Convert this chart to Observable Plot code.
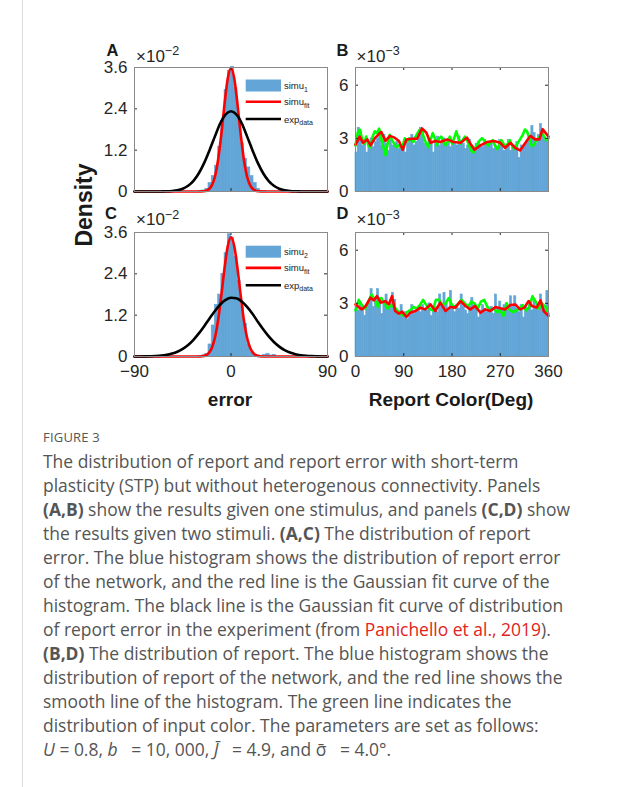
<!DOCTYPE html>
<html><head><meta charset="utf-8">
<script src="https://cdn.jsdelivr.net/npm/d3@7"></script>
<script src="https://cdn.jsdelivr.net/npm/@observablehq/plot@0.6"></script>
<style>
html,body{margin:0;padding:0;background:#fff;}
#wrap{position:relative;width:624px;height:787px;overflow:hidden;font-family:"Liberation Sans",Arial,sans-serif;}
.panel{position:absolute;}
#overlay{position:absolute;left:0;top:0;pointer-events:none;}
#border{position:absolute;left:22px;top:0;width:1px;height:787px;background:#dcdcdc;}
#caption{position:absolute;left:43px;top:425px;font-family:"Open Sans",Lato,sans-serif;color:#555;white-space:nowrap;}
#caption .fig{font-size:13px;line-height:24px;height:24px;letter-spacing:0.2px;color:#555;}
#caption .ln{font-size:16px;line-height:24px;height:24px;}
#caption b{font-weight:700;color:#555;}
#caption .ref{color:#e2231a;}
</style></head><body>
<div id="wrap">
  <div id="border"></div>
</div>
<script>
// ---------------- DATA ----------------
// Panel A/C: report error histograms (density, x10^-2), bins of 3 deg given by centers
const errBinCentersA = [-31.5,-28.5,-25.5,-22.5,-19.5,-16.5,-13.5,-10.5,-7.5,-4.5,-1.5,1.5,4.5,7.5,10.5,13.5,16.5,19.5,22.5,25.5,28.5,31.5];
const histA = [0,0.01,0.03,0.08,0.25,0.45,0.75,1.3,2.05,2.95,3.5,3.62,3.0,2.1,1.4,0.95,0.7,0.45,0.25,0.08,0.02,0.01];
const errBinCentersC = [-31.5,-28.5,-25.5,-22.5,-19.5,-16.5,-13.5,-10.5,-7.5,-4.5,-1.5,1.5,4.5,7.5,10.5,13.5,16.5,19.5,22.5,25.5,28.5,31.5,34.5,37.5,40.5];
const histC = [0,0.01,0.03,0.08,0.35,0.9,1.5,1.8,2.4,3.0,3.55,3.45,2.9,2.2,1.45,0.95,0.35,0.12,0.05,0.02,0.01,0.05,0.08,0.03,0.05];
const errBinWidth = 3;

// Gaussian fit of simulation (red) and experiment (black)
const redAx = [-90,-30,-27,-24,-21,-18,-15,-12,-9,-6,-3,0,3,6,9,12,15,18,21,24,27,30,90];
const redAy = [0,0,0.004,0.016,0.057,0.17,0.43,0.93,1.67,2.55,3.29,3.58,3.29,2.55,1.67,0.93,0.43,0.17,0.057,0.016,0.004,0,0];
const blackAx = [-90,-70,-65,-60,-55,-50,-45,-40,-35,-30,-25,-20,-15,-10,-5,0,5,10,15,20,25,30,35,40,45,50,55,60,65,70,90];
const blackAy = [0,0,0.002,0.006,0.016,0.037,0.082,0.166,0.31,0.53,0.83,1.20,1.60,1.98,2.24,2.33,2.24,1.98,1.60,1.20,0.83,0.53,0.31,0.166,0.082,0.037,0.016,0.006,0.002,0,0];
const redCx = [-90,-30,-27,-24,-21,-18,-15,-12,-9,-6,-3,0,3,6,9,12,15,18,21,24,27,30,90];
const redCy = [0,0,0.009,0.03,0.092,0.242,0.545,1.06,1.78,2.57,3.21,3.46,3.21,2.57,1.78,1.06,0.545,0.242,0.092,0.03,0.009,0,0];
const blackCx = [-90,-85,-80,-75,-70,-65,-60,-55,-50,-45,-40,-35,-30,-25,-20,-15,-10,-5,0,5,10,15,20,25,30,35,40,45,50,55,60,65,70,75,80,85,90];
const blackCy = [0,0.001,0.003,0.007,0.014,0.026,0.048,0.084,0.139,0.222,0.336,0.485,0.67,0.88,1.105,1.32,1.51,1.643,1.707,1.69,1.60,1.44,1.24,1.01,0.79,0.59,0.42,0.286,0.185,0.114,0.067,0.038,0.02,0.01,0.005,0.002,0];

// Panel B/D: report color histograms (density, x10^-3), 90 bins of 4 deg
const colorBinWidth = 4;
const histB = [2.2,3.6,3.4,2.6,2.9,2.2,2.7,3.0,2.5,2.8,
 3.0,3.3,2.6,3.2,2.7,2.3,2.9,2.6,2.7,2.8,
 2.4,2.5,2.6,2.2,2.7,2.9,3.2,2.6,2.8,3.0,
 3.6,3.3,2.7,2.5,2.9,2.8,2.2,2.9,3.1,2.6,
 2.7,3.0,2.6,2.8,2.5,2.9,2.7,2.6,3.1,2.8,
 2.7,2.4,2.6,2.9,2.5,2.2,2.7,2.8,2.6,2.5,
 2.9,2.6,2.7,2.8,2.4,2.6,2.5,2.9,2.7,2.3,
 2.6,2.9,2.3,2.5,2.6,2.8,1.9,2.6,2.5,2.7,
 2.9,3.1,3.7,3.3,2.7,3.2,3.8,3.4,3.0,2.9];
const histD = [2.8,2.6,3.0,2.7,2.3,2.9,3.1,3.8,2.8,3.2,
 3.8,3.3,2.4,3.1,3.5,2.8,3.0,3.6,3.2,2.6,
 2.3,2.9,2.2,2.5,2.1,2.6,2.9,2.4,2.6,2.8,
 2.5,2.9,2.7,2.6,3.0,2.3,2.6,2.8,2.5,3.5,
 2.9,3.6,3.0,2.6,3.7,2.8,2.5,2.9,2.7,3.5,
 2.8,2.6,2.4,2.8,3.3,2.9,2.7,2.2,2.6,2.9,
 2.7,2.5,2.6,2.8,2.4,3.5,2.7,3.1,2.6,2.9,
 3.0,2.6,3.4,2.8,3.4,2.7,2.5,2.9,2.2,2.8,
 2.7,2.9,2.6,3.2,2.8,2.6,3.5,2.9,2.7,3.7];
// input color distribution (green), every 4 deg (B) / 6 deg (D)
const greenBx = d3.range(0, 361, 4);
const greenBy = [2.6,3.3,3.5,3.0,2.7,3.1,2.6,2.5,3.1,3.4,
 3.3,3.55,3.0,2.5,2.05,2.7,3.2,2.9,2.7,2.5,
 2.6,2.5,2.6,3.0,2.8,3.0,2.9,2.8,3.1,3.3,
 3.5,3.4,3.0,2.7,2.5,2.9,3.3,3.0,2.6,3.0,
 3.1,2.8,2.6,2.8,3.1,2.7,3.0,3.4,3.0,2.7,
 2.9,3.1,2.9,2.6,2.3,2.2,2.5,2.7,2.9,3.0,
 2.9,2.7,2.6,2.8,2.9,2.6,2.4,2.6,2.9,2.7,
 2.5,2.7,2.9,2.6,2.4,2.6,2.8,3.0,3.2,3.5,
 3.4,3.0,2.6,2.6,2.8,3.0,3.1,3.3,3.1,2.9,
 3.0];
const greenDx = d3.range(0, 361, 6);
const greenDy = [2.6,3.2,2.9,2.7,3.1,3.5,3.2,2.8,3.3,3.0,
 2.7,2.9,2.8,2.6,2.4,2.3,2.5,2.6,2.8,2.7,
 2.9,3.2,2.9,2.7,2.6,3.2,3.2,2.9,3.0,3.3,
 2.9,2.8,3.0,3.2,3.0,2.8,3.1,3.0,2.7,3.1,
 3.2,2.8,2.6,2.7,2.5,2.6,2.3,3.0,2.6,2.5,
 2.6,2.7,2.9,2.6,2.8,3.4,3.1,2.7,3.0,2.8,
 2.4];
// smoothed histogram (red)
const redBx = [0,8,14,22,28,37,48,56,64,73,81,88,95,106,115,124,132,140,149,158,171,183,196,208,214,222,233,245,258,270,279,289,298,307,317,326,335,343,349,360];
const redBy = [2.65,3.1,2.75,2.94,2.6,3.04,3.37,2.85,3.14,3.04,2.85,2.36,2.94,2.98,2.98,3.56,3.33,2.75,2.85,2.79,2.94,2.79,2.75,3.04,2.71,2.36,2.6,2.79,2.85,2.75,2.46,2.75,2.46,2.32,2.75,3.14,2.94,2.94,3.52,3.1];
const redDx = [0,6,12,19,28,34,40,47,56,62,68,74,81,87,95,102,112,121,130,140,149,158,168,177,186,196,205,214,223,233,242,251,261,270,279,289,298,307,315,323,329,338,345,351,360];
const redDy = [2.94,2.79,2.66,2.85,3.32,3.17,3.41,3.04,3.13,2.94,3.41,2.57,2.42,2.53,2.23,2.47,2.57,2.76,2.66,2.94,2.57,3.04,2.57,2.79,2.76,3.13,2.85,2.66,2.85,2.47,2.66,2.57,2.79,2.72,2.66,2.91,2.94,2.66,2.76,3.13,2.85,2.76,3.17,2.57,2.29];

// ticks
const errTicks = [-90, 0, 90];
const colorTicks = [0, 90, 180, 270, 360];
const errYTicks = [0, 1.2, 2.4, 3.6];   // x10^-2
const colorYTicks = [0, 3, 6];          // x10^-3
const errYMax = 3.6, colorYMax = 7;

// ---------------- DRAW ----------------
const BLUE = "#62a5d6";
const wrap = document.getElementById("wrap");
const pts = (xs, ys) => xs.map((x, i) => ({x, y: ys[i]}));
const binsFromCenters = (cs, vs, w) => cs.map((c, i) => ({x1: c - w/2, x2: c + w/2, v: vs[i]}));
const binsFromStart = (vs, w) => vs.map((v, i) => ({x1: i*w, x2: (i+1)*w, v}));
const fmt = d => d < 0 ? "−" + Math.abs(d) : String(d);

function panel({left, top, w, h, xDomain, yDomain, xTicks, yTicks, showX, marks}) {
  const ml = 40, mr = 6, mt = 4, mb = showX ? 30 : 4;
  const chart = Plot.plot({
    width: w + ml + mr, height: h + mt + mb,
    marginLeft: ml, marginRight: mr, marginTop: mt, marginBottom: mb,
    x: {domain: xDomain, axis: showX ? undefined : null},
    y: {domain: yDomain},
    style: {fontFamily: '"Liberation Sans", Arial, sans-serif', fontSize: "17px", color: "#262626", background: "transparent", overflow: "visible"},
    marks: [
      ...marks,
      Plot.tickY(yTicks, {y: d => d, insetRight: w - 3, stroke: "#262626"}),
      Plot.tickY(yTicks, {y: d => d, insetLeft: w - 3, stroke: "#262626"}),
      Plot.tickX(xTicks, {x: d => d, insetTop: h - 3, stroke: "#262626"}),
      Plot.tickX(xTicks, {x: d => d, insetBottom: h - 3, stroke: "#262626"}),
      Plot.frame({stroke: "#8a8a8a"}),
      Plot.axisY(yTicks, {tickSize: 0, tickPadding: 7, label: null, fill: "#262626", tickFormat: fmt}),
      ...(showX ? [Plot.axisX(xTicks, {tickSize: 0, tickPadding: 8, label: null, fill: "#262626", tickFormat: fmt})] : [])
    ]
  });
  chart.classList.add("panel");
  chart.style.left = (left - ml) + "px";
  chart.style.top = (top - mt) + "px";
  wrap.appendChild(chart);
}

function histMark(hist) {
  return Plot.rect(hist, {x1: "x1", x2: "x2", y1: 0, y2: "v", fill: BLUE, stroke: BLUE, strokeWidth: 0.6});
}
function errMarks(hist, redPts, blackPts) {
  return [
    histMark(hist),
    Plot.line(redPts, {x: "x", y: "y", stroke: "#ff0000", strokeWidth: 2.6, curve: "monotone-x"}),
    Plot.line(blackPts, {x: "x", y: "y", stroke: "#000", strokeWidth: 2.6, curve: "monotone-x"})
  ];
}
function colorMarks(hist, greenPts, redPts) {
  return [
    histMark(hist),
    Plot.line(greenPts, {x: "x", y: "y", stroke: "#00ff00", strokeWidth: 2.6}),
    Plot.line(redPts, {x: "x", y: "y", stroke: "#ff0000", strokeWidth: 2.6})
  ];
}

panel({left: 134, top: 67, w: 193, h: 124, xDomain: [-90, 90], yDomain: [0, errYMax], xTicks: errTicks, yTicks: errYTicks, showX: false,
  marks: errMarks(binsFromCenters(errBinCentersA, histA, errBinWidth), pts(redAx, redAy), pts(blackAx, blackAy))});
panel({left: 355, top: 67, w: 193, h: 124, xDomain: [0, 360], yDomain: [0, colorYMax], xTicks: colorTicks, yTicks: colorYTicks, showX: false,
  marks: colorMarks(binsFromStart(histB, colorBinWidth), pts(greenBx, greenBy), pts(redBx, redBy))});
panel({left: 134, top: 232, w: 193, h: 124, xDomain: [-90, 90], yDomain: [0, errYMax], xTicks: errTicks, yTicks: errYTicks, showX: true,
  marks: errMarks(binsFromCenters(errBinCentersC, histC, errBinWidth), pts(redCx, redCy), pts(blackCx, blackCy))});
panel({left: 355, top: 232, w: 193, h: 124, xDomain: [0, 360], yDomain: [0, colorYMax], xTicks: colorTicks, yTicks: colorYTicks, showX: true,
  marks: colorMarks(binsFromStart(histD, colorBinWidth), pts(greenDx, greenDy), pts(redDx, redDy))});

// ---------------- TEXT OVERLAY ----------------
const NS = "http://www.w3.org/2000/svg";
const ov = document.createElementNS(NS, "svg");
ov.setAttribute("id", "overlay");
ov.setAttribute("width", 624); ov.setAttribute("height", 787);
ov.setAttribute("font-family", '"Liberation Sans", Arial, sans-serif');
wrap.appendChild(ov);
function el(tag, attrs, parent = ov) {
  const e = document.createElementNS(NS, tag);
  for (const k in attrs) e.setAttribute(k, attrs[k]);
  parent.appendChild(e);
  return e;
}
function txt(x, y, s, attrs = {}) {
  const t = el("text", Object.assign({x, y, fill: "#1a1a1a"}, attrs));
  t.textContent = s;
  return t;
}
// panel letters and exponent labels
const letters = [["A", 106.5, 56], ["B", 336.5, 56], ["C", 105, 218.5], ["D", 336.5, 218.5]];
letters.forEach(([s, x, y]) => txt(x, y, s, {"font-weight": "bold", "font-size": 16.5}));
const exps = [["−2", 136, 61.5], ["−3", 356.5, 61.5], ["−2", 136, 225], ["−3", 356.5, 225]];
exps.forEach(([e, x, y]) => {
  const t = el("text", {x, y, "font-size": 17, fill: "#262626"});
  const a = el("tspan", {}, t); a.textContent = "×10";
  const b = el("tspan", {dy: -6.5, "font-size": 12.5}, t); b.textContent = e;
});
// axis titles
txt(0, 0, "Density", {"font-weight": "bold", "font-size": 23, "text-anchor": "middle", transform: "translate(92,205) rotate(-90)"});
txt(230, 406, "error", {"font-weight": "bold", "font-size": 19, "text-anchor": "middle"});
txt(451, 406, "Report Color(Deg)", {"font-weight": "bold", "font-size": 19, "text-anchor": "middle"});

// legends
function legend(y0, sub1) {
  const rows = [y0, y0 + 16.2, y0 + 33.5];
  el("rect", {x: 245.7, y: rows[0] - 6, width: 35.3, height: 12, fill: BLUE});
  el("line", {x1: 245.7, x2: 281, y1: rows[1], y2: rows[1], stroke: "#ff0000", "stroke-width": 2.6});
  el("line", {x1: 245.7, x2: 281, y1: rows[2], y2: rows[2], stroke: "#000", "stroke-width": 2.6});
  const labels = [["simu", sub1], ["simu", "fit"], ["exp", "data"]];
  labels.forEach(([m, s], i) => {
    const t = el("text", {x: 284, y: rows[i] + 3.5, "font-size": 9.5, fill: "#1a1a1a"});
    const a = el("tspan", {}, t); a.textContent = m;
    const b = el("tspan", {dy: 2.5, "font-size": 7}, t); b.textContent = s;
  });
}
legend(85.5, "1");
legend(251.7, "2");

// ---------------- CAPTION ----------------
const captionLines = [
  'The distribution of report and report error with short-term',
  'plasticity (STP) but without heterogenous connectivity. Panels',
  '<b>(A,B)</b> show the results given one stimulus, and panels <b>(C,D)</b> show',
  'the results given two stimuli. <b>(A,C)</b> The distribution of report',
  'error. The blue histogram shows the distribution of report error',
  'of the network, and the red line is the Gaussian fit curve of the',
  'histogram. The black line is the Gaussian fit curve of distribution',
  'of report error in the experiment (from <span class="ref">Panichello et al., 2019</span>).',
  '<b>(B,D)</b> The distribution of report. The blue histogram shows the',
  'distribution of report of the network, and the red line shows the',
  'smooth line of the histogram. The green line indicates the',
  'distribution of input color. The parameters are set as follows:',
  '<i>U</i> = 0.8, <i>b</i> &nbsp; = 10, 000, <i>J&#772;</i> &nbsp; = 4.9, and &#963;&#772; &nbsp; = 4.0°.'
];
const cap = document.createElement("div");
cap.id = "caption";
cap.innerHTML = '<div class="fig">FIGURE 3</div>' + captionLines.map(l => '<div class="ln"><span>' + l + '</span></div>').join("");
wrap.appendChild(cap);
// fit the caption's type size so the reference line 5 spans ~518px
const probe = cap.querySelectorAll(".ln > span")[4];
const w5 = probe.getBoundingClientRect().width;
const fs = Math.max(13, Math.min(19, 16 * 518 / w5));
cap.querySelectorAll(".ln").forEach(d => d.style.fontSize = fs.toFixed(2) + "px");
</script>
</body></html>
